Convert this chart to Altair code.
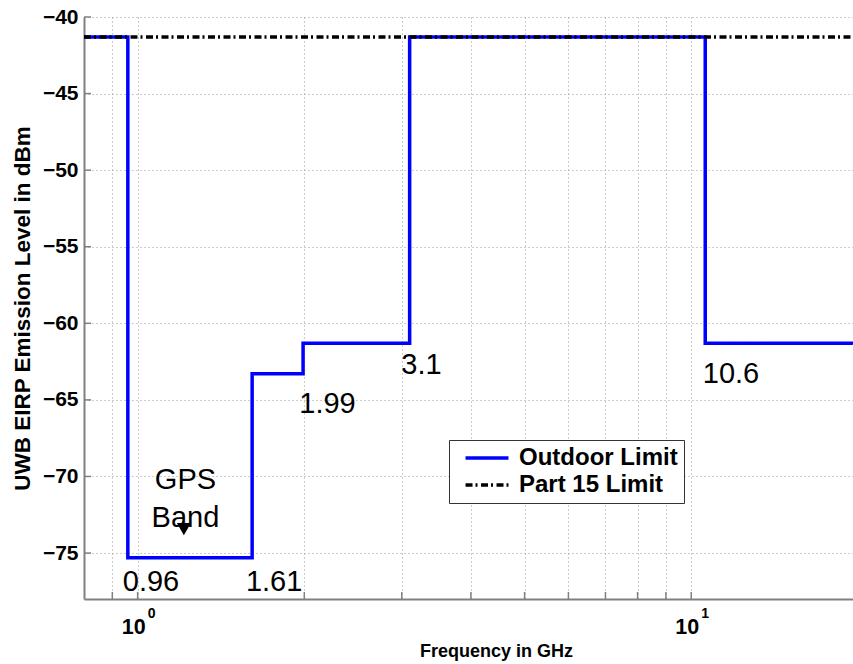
import altair as alt
import pandas as pd

# ---- data ----
series_names = ["Outdoor Limit", "Part 15 Limit"]
outdoor_freq = [0.8, 0.96, 1.61, 1.99, 3.1, 10.6, 19.6]
outdoor_level = [-41.3, -75.3, -63.3, -61.3, -41.3, -61.3, -61.3]
part15_freq = [0.8, 19.6]
part15_level = [-41.3, -41.3]

ann_text = ["0.96", "1.61", "1.99", "3.1", "10.6", "GPS", "Band"]
ann_freq = [1.057, 1.764, 2.203, 3.256, 11.80, 1.220, 1.220]
ann_level = [-76.86, -76.86, -65.30, -62.75, -63.34, -70.20, -72.74]

arrow_freq = [1.212]
arrow_level = [-73.43]

x_grid_values = [0.9, 1, 2, 3, 4, 5, 6, 7, 8, 9, 10]
x_major = [1, 10]
x_exponents = ["0", "1"]
y_tick_values = [-75, -70, -65, -60, -55, -50, -45, -40]
x_domain = [0.8, 19.6]
y_domain = [-78, -40]

FONT = "Liberation Sans"

lines_df = pd.DataFrame(
    {
        "series": [series_names[0]] * len(outdoor_freq) + [series_names[1]] * len(part15_freq),
        "freq": outdoor_freq + part15_freq,
        "level": outdoor_level + part15_level,
        "order": list(range(len(outdoor_freq))) + list(range(len(part15_freq))),
    }
)
ann_df = pd.DataFrame({"freq": ann_freq, "level": ann_level, "label": ann_text})
arrow_df = pd.DataFrame({"freq": arrow_freq, "level": arrow_level})
exp_df = pd.DataFrame({"freq": x_major, "level": [y_domain[0]] * 2, "label": x_exponents})
xtick_df = pd.DataFrame({"freq": x_grid_values, "level": [y_domain[0]] * len(x_grid_values)})
ytick_df = pd.DataFrame({"freq": [x_domain[0]] * len(y_tick_values), "level": y_tick_values})

xenc = alt.X(
    "freq:Q",
    scale=alt.Scale(type="log", domain=x_domain, nice=False),
    axis=alt.Axis(
        values=x_grid_values,
        labelExpr="datum.value == 1 || datum.value == 10 ? '10' : ''",
        labelFont=FONT,
        labelFontSize=21.5,
        labelFontWeight="bold",
        labelColor="black",
        labelOffset=-4.5,
        labelPadding=17,
        labelFlush=False,
        labelOverlap=False,
        ticks=False,
        tickSize=0,
        domainColor="#808080",
        domainWidth=2,
        grid=True,
        gridColor="#9a9a9a",
        gridDash=[1, 3],
        gridWidth=1,
        title="Frequency in GHz",
        titleFont=FONT,
        titleFontSize=18,
        titleFontWeight="bold",
        titleColor="black",
        titleX=412,
        titlePadding=5,
    ),
)
yenc = alt.Y(
    "level:Q",
    scale=alt.Scale(domain=y_domain, nice=False, zero=False),
    axis=alt.Axis(
        values=y_tick_values,
        labelFont=FONT,
        labelFontSize=21,
        labelFontWeight="bold",
        labelColor="black",
        labelPadding=6,
        ticks=False,
        tickSize=0,
        domainColor="#808080",
        domainWidth=2,
        grid=True,
        gridColor="#9a9a9a",
        gridDash=[1, 3],
        gridWidth=1,
        title="UWB EIRP Emission Level in dBm",
        titleFont=FONT,
        titleFontSize=22.5,
        titleFontWeight="bold",
        titleColor="black",
        titlePadding=8,
    ),
)

legend_cfg = dict(
    title=None,
    orient="none",
    legendX=365,
    legendY=423,
    direction="vertical",
    symbolType="M-3,0H3",
    symbolSize=205,
    symbolOffset=20,
    symbolStrokeWidth=3.5,
    labelFont=FONT,
    labelFontSize=24,
    labelFontWeight="bold",
    labelColor="black",
    labelOffset=20,
    padding=6,
    rowPadding=3,
    fillColor="white",
    strokeColor="#333333",
)

lines = (
    alt.Chart(lines_df)
    .mark_line(interpolate="step-after", strokeWidth=3.5, strokeCap="butt")
    .encode(
        x=xenc,
        y=yenc,
        order="order:Q",
        color=alt.Color(
            "series:N",
            scale=alt.Scale(domain=series_names, range=["#0000ff", "#000000"]),
            legend=alt.Legend(**legend_cfg),
        ),
        strokeDash=alt.StrokeDash(
            "series:N",
            scale=alt.Scale(domain=series_names, range=[[1, 0], [7, 3, 2, 3.5]]),
            legend=alt.Legend(**legend_cfg),
        ),
    )
)

xticks = (
    alt.Chart(xtick_df)
    .mark_tick(orient="vertical", size=7, thickness=1.5, color="#808080", yOffset=-3.5, opacity=1)
    .encode(x=xenc, y=yenc)
)
yticks = (
    alt.Chart(ytick_df)
    .mark_tick(orient="horizontal", size=7, thickness=1.5, color="#808080", xOffset=3.5, opacity=1)
    .encode(x=xenc, y=yenc)
)

annotations = (
    alt.Chart(ann_df)
    .mark_text(font=FONT, fontSize=29, color="black", align="center", baseline="middle")
    .encode(x=xenc, y=yenc, text="label:N")
)

arrow = (
    alt.Chart(arrow_df)
    .mark_point(shape="triangle-down", filled=True, color="black", size=200, opacity=1)
    .encode(x=xenc, y=yenc)
)

exponents = (
    alt.Chart(exp_df)
    .mark_text(
        font=FONT, fontSize=14, fontWeight="bold", color="black",
        align="center", baseline="alphabetic", dx=14, dy=19,
    )
    .encode(x=xenc, y=yenc, text="label:N")
)

chart = (
    alt.layer(xticks, yticks, lines, annotations, arrow, exponents)
    .properties(
        width=769,
        height=582,
        autosize=alt.AutoSizeParams(type="none"),
        padding={"left": 84, "top": 17, "right": 0, "bottom": 65},
        background="white",
    )
    .configure_view(stroke=None)
)

chart.save("out.html", embed_options={"renderer": "svg", "actions": False})
